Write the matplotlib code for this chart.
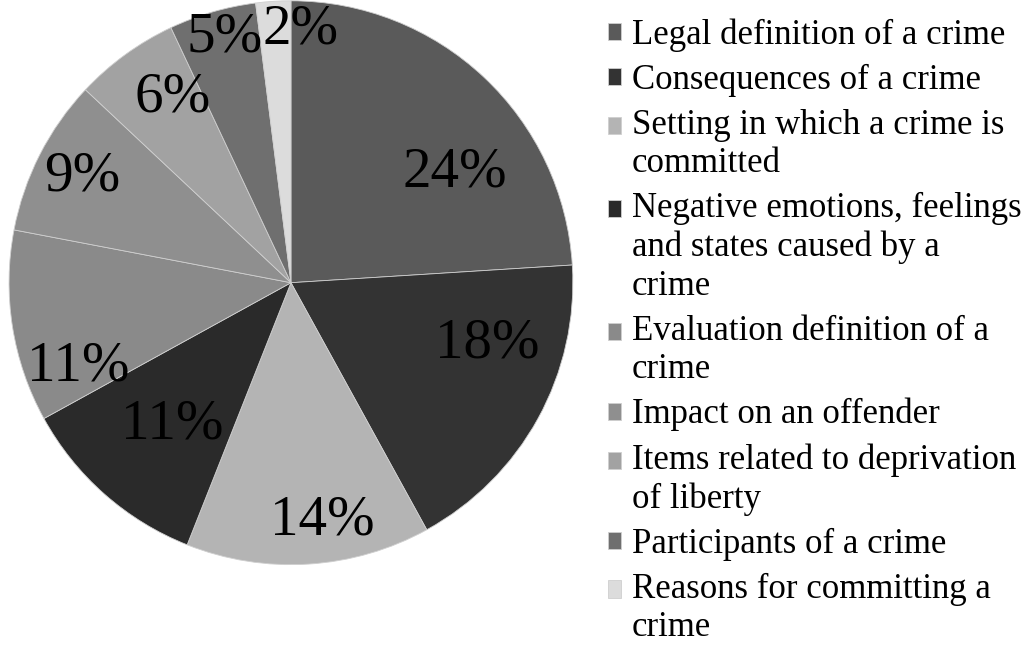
import matplotlib.pyplot as plt
import numpy as np

# categories and shares (percent)
categories = [
    'Legal definition of a crime',
    'Consequences of a crime',
    'Setting in which a crime is\ncommitted',
    'Negative emotions, feelings\nand states caused by a\ncrime',
    'Evaluation definition of a\ncrime',
    'Impact on an offender',
    'Items related to deprivation\nof liberty',
    'Participants of a crime',
    'Reasons for committing a\ncrime',
]
shares = [24, 18, 14, 11, 11, 9, 6, 5, 2]
colors = ['#5a5a5a', '#333333', '#b4b4b4', '#2a2a2a', '#8a8a8a',
          '#8f8f8f', '#a2a2a2', '#6f6f6f', '#dcdcdc']

# label placement (fraction of radius, angle shift in degrees) - hand tuned
label_r = [0.70, 0.73, 0.85, 0.655, 0.81, 0.83, 0.78, 0.90, 0.90]
label_shift = [-13, 11.5, 4, 1.5, 12.5, 0, -3.5, -1, -5.7]

plt.rcParams['font.family'] = ['Liberation Serif', 'DejaVu Serif']

fig = plt.figure(figsize=(10.27, 6.66), dpi=100)
ax = fig.add_axes([0.0088, 0.152, 0.549, 0.847])

wedges, texts = ax.pie(shares, colors=colors, startangle=90, counterclock=False,
                       wedgeprops=dict(edgecolor='#cfcfcf', linewidth=0.6))
ax.set_xlim(-1, 1)
ax.set_ylim(-1, 1)
ax.set_aspect('equal')

for w, v, r, s in zip(wedges, shares, label_r, label_shift):
    ang = np.deg2rad((w.theta1 + w.theta2) / 2 + s)
    ax.text(r * np.cos(ang), r * np.sin(ang), f'{v}%', ha='center', va='center',
            fontsize=41, color='black')

fs = 25
linesp = 1.22
leg = fig.legend(wedges, categories, loc='upper left', bbox_to_anchor=(0.592, 0.972),
                 frameon=False, fontsize=fs, handlelength=0.38, handleheight=0.38,
                 handletextpad=0.3, labelspacing=0.34, borderaxespad=0, borderpad=0)
for t in leg.get_texts():
    t.set_linespacing(linesp)

# put the square next to the first line of a wrapped label
for h, lab in zip(leg.legend_handles, categories):
    n = lab.count('\n')
    h.set_y(h.get_y() + n * 14.0)

fig.savefig('out.png', dpi=100)
